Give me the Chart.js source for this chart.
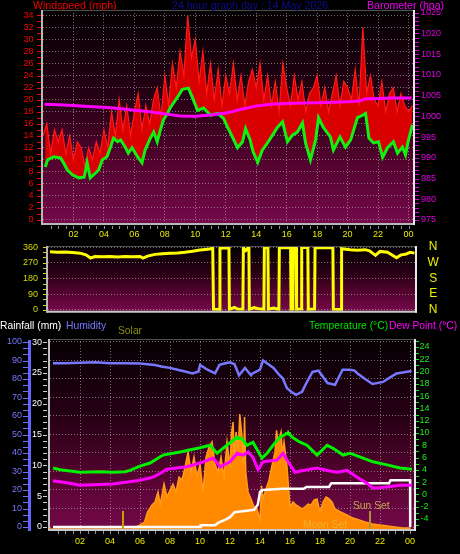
<!DOCTYPE html>
<html><head><meta charset="utf-8">
<script src="https://cdn.jsdelivr.net/npm/chart.js@4.4.1/dist/chart.umd.min.js"></script>
<style>
html,body{margin:0;padding:0;background:#000;width:460px;height:554px;overflow:hidden;position:relative}
canvas{position:absolute;left:0}
.t{position:absolute;white-space:nowrap;font-family:'Liberation Sans',Arial,sans-serif;line-height:1}
</style></head><body>
<canvas id="c1" width="460" height="245" style="top:0;width:460px;height:245px"></canvas>
<canvas id="c2" width="460" height="82" style="top:236px;width:460px;height:82px"></canvas>
<canvas id="c3" width="460" height="236" style="top:318px;width:460px;height:236px"></canvas>
<div class="t" style="left:33px;top:0;font-size:10.6px;color:#f00000">Windspeed (mph)</div>
<div class="t" style="left:172px;top:0;font-size:10.6px;color:#0c0c90">24 hour graph day : 14 May 2026</div>
<div class="t" style="left:367px;top:0;font-size:10.6px;color:#ee00ee">Barometer (hpa)</div>
<div class="t" style="left:0;top:321px;font-size:10.3px;color:#ffffff">Rainfall (mm)</div>
<div class="t" style="left:66px;top:321px;font-size:10.3px;color:#7878ff">Humidity</div>
<div class="t" style="left:118px;top:326px;font-size:10.3px;color:#8c8c14">Solar</div>
<div class="t" style="left:309px;top:321px;font-size:10.3px;color:#00e400">Temperature (°C)</div>
<div class="t" style="left:389px;top:321px;font-size:10.3px;color:#ff00ff">Dew Point (°C)</div>
<div class="t" style="left:353px;top:501px;font-size:10.3px;color:#c8a850">Sun Set</div>
<div class="t" style="left:303px;top:520px;font-size:10.3px;color:#f0b030">Moon Set</div>
<script>
// ---------- tick labels ----------
const HOUR_TICKS = [2,4,6,8,10,12,14,16,18,20,22,24];
const HOUR_LABELS = ['02','04','06','08','10','12','14','16','18','20','22','00'];
const WIND_TICKS = [0,2,4,6,8,10,12,14,16,18,20,22,24,26,28,30,32,34];
const BARO_TICKS = [975,980,985,990,995,1000,1005,1010,1015,1020,1025];
const DIR_TICKS = [0,90,180,270,360];
const DIR_LABELS = ['N','E','S','W','N'];
const RAIN_TICKS = [0,5,10,15,20,25,30];
const HUM_TICKS = [0,10,20,30,40,50,60,70,80,90,100];
const TEMP_TICKS = [-4,-2,0,2,4,6,8,10,12,14,16,18,20,22,24];

// ---------- wind (mph), 15-minute gust samples ----------
const GUST_STEP_H = 0.25;
const gustSpeed = [14,16,11,15, 13,15,11,14, 10,13,12,9, 12,10,13,11, 15,12,18,14, 20,15,19,14,
  18,21,15,19, 16,20,22,17, 24,19,26,22, 28,24,34,27, 30,23,28,21, 26,20,25,19,
  24,21,26,20, 24,19,23,25, 22,26,20,24, 19,23,18,26, 22,19,24,20, 23,18,21,22,
  24,19,22,18, 21,24,19,23, 22,20,25,19, 32,21,24,20, 19,23,18,21, 22,18,21,19, 18,19];
const avgHours = [0.15,0.3,0.7,1.15,1.35,1.6,1.93,2.35,2.7,2.9,3.1,3.45,3.65,3.9,4.2,4.43,4.63,4.9,5.1,5.4,5.6,5.85,6.2,6.5,6.7,7.05,7.27,7.5,7.7,7.9,8.17,8.37,8.83,9.15,9.55,9.8,10.15,10.54,11.0,11.46,11.85,12.1,12.3,12.77,13.1,13.3,13.6,13.8,14.1,14.4,14.74,15.07,15.4,15.73,16.05,16.38,16.7,17.04,17.24,17.56,17.9,18.09,18.4,18.87,19.07,19.5,19.86,20.2,20.65,20.98,21.18,21.4,21.7,22.03,22.3,22.62,23.01,23.28,23.6,23.8,24.0,24.26];
const avgSpeed = [8.8,10,10.5,10.3,9.5,8.3,7.5,7,7.1,9.5,7,7.8,8.3,10,10.5,12.1,13.6,13,13.3,12.1,11.1,12,10.5,9.5,11.6,13.6,14.6,13,14.9,16.6,17.7,18.7,20.4,21.7,21.9,20.4,18.2,18.6,17.4,17.7,16.9,15.5,14.5,12,13,15.2,13.3,11.3,9.6,11.6,12.8,14.1,15.4,16.3,13,14.1,14.6,16.1,12.8,10,13.3,17,15.4,13.8,11.6,13.8,12.1,13.3,17,17.4,17.7,13.6,12.8,13,10.4,12,13,11.1,12.1,10.8,13.3,15.8];
// ---------- barometer (hpa) ----------
const baroHours = [0.1,1,2,3,4,5,6,7,8,9,10,11,12,12.5,13,13.5,14,15,16,17,18,19,20,20.8,21.1,22,23,24.2];
const baroPressure = [1002.9,1002.8,1002.6,1002.4,1002.2,1001.9,1001.5,1001.1,1000.6,1000.1,1000,1000.3,1000.8,1001.2,1001.7,1002.1,1002.5,1002.9,1003.1,1003.2,1003.3,1003.4,1003.5,1003.7,1004.2,1004.3,1004.4,1004.4];
// ---------- wind direction (degrees) ----------
const dirHours = [0,0.5,1,1.5,2,2.4,2.7,3,3.5,4,4.5,5,5.5,6,6.2,6.5,7,7.5,8,8.5,9,9.5,10,10.5,10.85,
  10.9,11.3,11.33,11.6,11.93,11.96,12.3,12.5,12.86,12.89,13.05,13.26,13.29,13.6,13.9,14.26,14.29,14.53,14.56,14.9,15.26,15.29,16.04,16.07,16.19,16.22,16.41,16.44,16.75,16.78,17.19,17.22,17.64,17.67,18.86,18.89,19.41,19.44,
  20,20.5,21,21.3,21.7,22,22.5,23.1,23.4,23.7,24,24.3];
const dirDegrees = [333,330,331,328,325,315,297,305,304,306,303,306,305,306,297,308,318,322,325,326,330,336,343,348,352,
  3,2,352,356,354,2,14,4,3,356,340,358,2,12,6,3,357,355,3,10,2,358,356,3,4,357,356,2,5,357,358,2,4,356,357,3,2,350,
  344,342,345,338,312,335,330,298,315,318,330,325];
// ---------- bottom panel ----------
const humHours = [0.2,1,2,3,4,5,6,7,7.5,8,8.5,9,9.5,9.9,10,10.5,11,11.3,11.7,12,12.3,12.6,13,13.4,13.5,14,14.2,14.9,15.3,15.5,15.8,16.1,16.4,16.8,17.1,17.5,17.9,18.5,19.0,19.5,20,20.3,20.5,21,21.5,22.2,22.7,23.1,23.5,24.1];
const humidity = [88.5,88.5,88.8,89,88.5,88.5,88.3,87.5,86.6,86,85,84,83,84,87.6,85,83,87.6,88.5,89,88,82,86,82,83,85,90,86,82,80.5,75,73,71.4,73,78,83.8,84.5,77.8,76.8,85,85,84.5,83,80,77.3,78.4,81,83,83.5,84.3];
const tempHours = [0.2,0.67,2,3.33,4.2,5,5.33,6,6.67,7.53,8.2,8.67,10,10.67,11.13,12,12.47,12.8,13.13,13.53,14.13,14.47,14.87,15.33,15.87,16.2,16.67,17.13,17.8,18.47,18.87,19.53,20,20.87,21.53,22.47,23.33,24.13];
const temperature = [4.3,4.0,3.6,3.7,3.6,3.7,3.9,4.6,5.1,6.4,6.7,6.9,7.6,8.0,6.7,8.4,9.3,9.0,8.0,8.5,5.9,6.7,8.0,9.3,10,9.2,8.5,8.0,6.4,8.0,7.5,6.4,6.7,5.9,5.3,4.8,4.3,4.1];
const dewHours = [0.2,1.33,2,4.2,6,6.87,7.33,7.8,9.13,10,10.87,11.13,11.33,12,12.47,12.87,13.2,13.53,13.87,14.2,15.13,15.53,15.87,16.33,16.87,17.8,18.47,19.13,19.8,20.47,21.13,21.53,22.47,23.33,24.13];
const dewPoint = [2.2,1.8,1.5,1.7,2.3,2.8,3.4,4.1,4.5,5.1,5.9,5.2,4.5,5.3,6.7,6.4,6.9,6.0,4.0,5.3,5.6,6.7,5.3,3.6,3.9,4.3,3.9,3.6,3.9,2.8,1.8,1.0,1.2,1.5,1.5];
const rainHours = [0.2,10,10.05,11,11.3,11.7,12,12.3,13,13.6,13.85,14.0,14.2,15.5,16.9,17.1,18.6,18.75,22.6,22.7,24,24.01];
const rainfall = [0,0,0.3,0.3,0.8,1.2,1.6,2.4,2.6,2.8,3.6,5.7,6.0,6.2,6.2,6.5,6.5,7.1,7.1,7.6,7.6,0];
const solarHours = [0,5.5,6.0,6.3,6.5,6.8,7.0,7.2,7.35,7.6,7.8,8.0,8.2,8.4,8.6,8.8,9.0,9.2,9.4,9.6,9.8,10.0,10.2,10.4,10.6,10.8,11.0,11.2,11.4,11.6,11.8,12.0,12.1,12.2,12.3,12.4,12.55,12.65,12.8,12.9,12.97,13.05,13.2,13.4,13.6,13.8,14.0,14.1,14.2,14.4,14.6,14.8,15.0,15.1,15.2,15.4,15.5,15.6,15.8,16.0,16.2,16.4,16.6,16.8,17.0,17.2,17.4,17.6,17.8,18.0,18.2,18.4,18.6,18.8,19.0,19.4,19.8,20.2,20.6,21.0,21.5,22.0,22.5,23.0,23.5,24.0];
const solar = [0,0,26,45,110,156,175,240,160,292,208,253,292,240,337,318,402,500,370,467,337,422,240,467,532,565,422,370,467,337,565,402,620,694,450,630,520,746,597,420,727,370,240,195,143,130,58,280,195,260,318,415,500,640,565,630,480,565,402,143,175,156,143,130,143,162,156,188,195,110,175,208,195,175,130,110,91,71,58,45,32,26,19,13,6,6];
const maxTempHour = [15.87], maxTempValue = [10];
const sunEventHours = [4.87, 21.33];

// ---------- helpers ----------
const FONT = "'Liberation Sans', Arial, sans-serif";
const pts = (xs, ys) => xs.map((x, i) => ({x: x, y: ys[i]}));
const GRID = 'rgba(200,200,200,0.55)';
const CLEAR = 'rgba(0,0,0,0)';
const PANEL_STOPS = [[0,'#040002'],[0.4,'#260014'],[0.72,'#54032f'],[1,'#74094a']];

function deco(cfg) {
  return {
    id: 'deco',
    beforeDraw(chart) {
      const {ctx, chartArea: a} = chart;
      const g = ctx.createLinearGradient(0, a.top, 0, a.bottom);
      PANEL_STOPS.forEach(s => g.addColorStop(s[0], s[1]));
      ctx.save(); ctx.fillStyle = g;
      ctx.fillRect(a.left, a.top, a.right - a.left, a.bottom - a.top);
      ctx.restore();
    },
    afterDatasetsDraw(chart) {
      const {ctx, chartArea: a} = chart;
      if (cfg.sun) {
        const xs = chart.scales.x, r = chart.scales.rain;
        ctx.save(); ctx.lineWidth = 2;
        cfg.sun.hours.forEach((h, i) => {
          const px = Math.round(xs.getPixelForValue(h));
          ctx.strokeStyle = cfg.sun.colors[i];
          ctx.beginPath(); ctx.moveTo(px, r.getPixelForValue(cfg.sun.height)); ctx.lineTo(px, a.bottom); ctx.stroke();
        });
        ctx.restore();
      }
    },
    afterDraw(chart) {
      const {ctx, chartArea: a} = chart;
      ctx.save();
      (cfg.ticks || []).forEach(t => {
        const s = chart.scales[t.scale];
        ctx.strokeStyle = t.color; ctx.lineWidth = 1;
        ctx.beginPath();
        const n = Math.round((t.to - t.from) / t.step);
        for (let k = 0; k <= n; k++) {
          const v = t.from + k * t.step;
          const p = Math.round(s.getPixelForValue(v)) + 0.5;
          if (t.horizontal) {
            const y0 = a.bottom + t.off;
            ctx.moveTo(p, y0); ctx.lineTo(p, y0 + t.len);
          } else {
            const x0 = (t.edge === 'left' ? a.left : a.right) + t.off;
            ctx.moveTo(x0, p); ctx.lineTo(x0 + t.len, p);
          }
        }
        ctx.stroke();
      });
      const f = cfg.frame;
      const line = (x1, y1, x2, y2, c, w) => { ctx.strokeStyle = c; ctx.lineWidth = w; ctx.beginPath(); ctx.moveTo(x1, y1); ctx.lineTo(x2, y2); ctx.stroke(); };
      line(a.left, a.top + 0.5, a.right, a.top + 0.5, f.top, 1);
      line(a.left - 1, a.top, a.left - 1, a.bottom + 2, f.left, 2);
      line(a.left - 1, a.bottom + 1, a.right + 1, a.bottom + 1, f.bottom, 2);
      line(a.right, a.top, a.right, a.bottom + 2, f.right, 2);
      if (cfg.bar) {
        const s = chart.scales[cfg.bar.scale];
        line(s.right - 2.5, a.top + 1, s.right - 2.5, a.bottom + 2, cfg.bar.color, 3);
      }
      ctx.restore();
    }
  };
}
function fixedTicks(list) { return s => { s.ticks = list.map(v => ({value: v})); }; }
function tickFont(size) { return {family: FONT, size: size}; }
// y-axis: gap between plot and labels made with an invisible tick mark (ticks.padding would also pad the plot top/bottom)
function yGrid(gap, onChart) {
  return {display: true, drawOnChartArea: onChart, color: GRID, drawTicks: true, tickLength: gap, tickColor: CLEAR, tickWidth: 1};
}
const hourLabel = v => HOUR_LABELS[HOUR_TICKS.indexOf(v)];
const plain = v => String(v);
const baseOpts = {responsive: false, animation: false, devicePixelRatio: 1, events: [],
  plugins: {legend: {display: false}, tooltip: {enabled: false}}};

// ---------- chart 1: wind + barometer ----------
new Chart(document.getElementById('c1'), {
  type: 'line',
  data: {datasets: [
    {data: pts(baroHours, baroPressure), yAxisID: 'baro', borderColor: '#ff00ff', borderWidth: 3, pointRadius: 0, fill: false},
    {data: pts(avgHours, avgSpeed), yAxisID: 'wind', borderColor: '#12f012', borderWidth: 3, pointRadius: 0, fill: false},
    {data: gustSpeed.map((v, i) => ({x: i * GUST_STEP_H, y: v})), yAxisID: 'wind', borderColor: '#ff1a1a', borderWidth: 1.2, pointRadius: 0, fill: 1, backgroundColor: '#d80000'}
  ]},
  options: Object.assign({}, baseOpts, {
    layout: {padding: {top: 10, left: 0, right: 0, bottom: 0}},
    scales: {
      x: {type: 'linear', min: 0, max: 24.36, afterFit: s => { s.height = 22; }, afterBuildTicks: fixedTicks(HOUR_TICKS),
        ticks: {callback: hourLabel, color: '#e8e800', font: tickFont(9), padding: 6, maxRotation: 0, autoSkip: false},
        grid: {color: GRID, drawTicks: false}, border: {display: false, dash: [1, 2]}},
      wind: {type: 'linear', position: 'left', min: -0.5, max: 34.88, afterFit: s => { s.width = 43; }, afterBuildTicks: fixedTicks(WIND_TICKS),
        ticks: {color: '#ff0000', font: tickFont(9), padding: 0, autoSkip: false, callback: plain},
        grid: yGrid(9.5, true), border: {display: false, dash: [1, 2]}},
      baro: {type: 'linear', position: 'right', min: 974.28, max: 1025.65, afterFit: s => { s.width = 46; }, afterBuildTicks: fixedTicks(BARO_TICKS),
        ticks: {color: '#e000e0', font: tickFont(9), padding: 0, autoSkip: false, callback: plain},
        grid: yGrid(7, false), border: {display: false}}
    }
  }),
  plugins: [deco({
    frame: {top: '#505050', left: '#b8b8b8', bottom: '#b8b8b8', right: '#e8e8e8'},
    ticks: [
      {scale: 'wind', from: 0, to: 34, step: 1, edge: 'left', off: -6, len: 5, color: '#ff0000'},
      {scale: 'baro', from: 975, to: 1025, step: 1, edge: 'right', off: 1, len: 4, color: '#e000e0'},
      {scale: 'x', from: 0.5, to: 24, step: 0.5, horizontal: true, off: 3, len: 3, color: '#909090'}
    ]
  })]
});

// ---------- chart 2: wind direction ----------
new Chart(document.getElementById('c2'), {
  type: 'line',
  data: {datasets: [
    {data: pts(dirHours, dirDegrees), yAxisID: 'dir', borderColor: '#ffff00', borderWidth: 3, pointRadius: 0, fill: false}
  ]},
  options: Object.assign({}, baseOpts, {
    layout: {padding: {top: 10, left: 0, right: 0, bottom: 7}},
    scales: {
      x: {type: 'linear', min: -0.133, max: 24.4, display: false},
      dir: {type: 'linear', position: 'left', min: -6, max: 366, afterFit: s => { s.width = 48; }, afterBuildTicks: fixedTicks(DIR_TICKS),
        ticks: {color: '#d8d800', font: tickFont(9), padding: 0, autoSkip: false, callback: plain},
        grid: yGrid(10, true), border: {display: false, dash: [1, 2]}},
      dirR: {type: 'linear', position: 'right', min: -6, max: 366, afterFit: s => { s.width = 44; }, afterBuildTicks: fixedTicks(DIR_TICKS),
        ticks: {color: '#f0f000', font: tickFont(12), padding: 0, crossAlign: 'center', autoSkip: false,
          callback: v => DIR_LABELS[DIR_TICKS.indexOf(v)]},
        grid: yGrid(11.5, false), border: {display: false}}
    }
  }),
  plugins: [deco({
    frame: {top: '#505050', left: '#b8b8b8', bottom: '#c8c8c8', right: '#e8e8e8'},
    ticks: [
      {scale: 'dir', from: 0, to: 360, step: 30, edge: 'left', off: -5, len: 4, color: '#d8d800'}
    ]
  })]
});

// ---------- chart 3: humidity, rain, solar, temperature, dew point ----------
new Chart(document.getElementById('c3'), {
  type: 'line',
  data: {datasets: [
    {type: 'scatter', data: pts(maxTempHour, maxTempValue), yAxisID: 'temp', pointStyle: 'cross', pointRadius: 3, borderColor: '#20ff20', borderWidth: 1},
    {data: pts(tempHours, temperature), yAxisID: 'temp', borderColor: '#00f000', borderWidth: 3, pointRadius: 0, fill: false},
    {data: pts(dewHours, dewPoint), yAxisID: 'temp', borderColor: '#ff00ff', borderWidth: 3, pointRadius: 0, fill: false},
    {data: pts(humHours, humidity), yAxisID: 'hum', borderColor: '#7878ff', borderWidth: 2.5, pointRadius: 0, fill: false},
    {data: pts(rainHours, rainfall), yAxisID: 'rain', borderColor: '#ffffff', borderWidth: 2.5, pointRadius: 0, fill: false},
    {data: pts(solarHours, solar), yAxisID: 'solar', borderColor: '#ff9a1a', borderWidth: 1.5, pointRadius: 0, fill: 'origin', backgroundColor: '#ff8a00'}
  ]},
  options: Object.assign({}, baseOpts, {
    layout: {padding: {top: 21, left: 0, right: 0, bottom: 0}},
    scales: {
      x: {type: 'linear', min: 0, max: 24.33, afterFit: s => { s.height = 25; }, afterBuildTicks: fixedTicks(HOUR_TICKS),
        ticks: {callback: hourLabel, color: '#e8e800', font: tickFont(9), padding: 7, maxRotation: 0, autoSkip: false},
        grid: {color: GRID, drawTicks: false}, border: {display: false, dash: [1, 2]}},
      rain: {type: 'linear', position: 'left', weight: 0, min: -0.324, max: 30.49, afterFit: s => { s.width = 18; }, afterBuildTicks: fixedTicks(RAIN_TICKS),
        ticks: {color: '#ffffff', font: tickFont(9), padding: 0, autoSkip: false, callback: plain},
        grid: yGrid(8, false), border: {display: false}},
      hum: {type: 'linear', position: 'left', weight: 1, min: -1.08, max: 101.6, afterFit: s => { s.width = 32; }, afterBuildTicks: fixedTicks(HUM_TICKS),
        ticks: {color: '#7878ff', font: tickFont(9), padding: 0, autoSkip: false, callback: plain},
        grid: yGrid(10, true), border: {display: false, dash: [1, 2]}},
      temp: {type: 'linear', position: 'right', min: -5.64, max: 25.3, afterFit: s => { s.width = 45; }, afterBuildTicks: fixedTicks(TEMP_TICKS),
        ticks: {color: '#20e820', font: tickFont(9), padding: 0, crossAlign: 'center', autoSkip: false, callback: plain},
        grid: yGrid(4.5, false), border: {display: false}},
      solar: {type: 'linear', display: false, min: 0, max: 1233}
    }
  }),
  plugins: [deco({
    frame: {top: '#505050', left: '#c0c0c0', bottom: '#c8c8c8', right: '#e8e8e8'},
    bar: {scale: 'hum', color: '#6464ff'},
    sun: {hours: sunEventHours, colors: ['#c8a000', '#b09030'], height: 2.6},
    ticks: [
      {scale: 'rain', from: 0, to: 30, step: 1, edge: 'left', off: -7, len: 4, color: '#d0d0d0'},
      {scale: 'rain', from: 0, to: 30, step: 1, edge: 'left', off: -27, len: 5, color: '#7070ff'},
      {scale: 'temp', from: -5, to: 25, step: 1, edge: 'right', off: 1, len: 3, color: '#20e820'},
      {scale: 'x', from: 0.5, to: 24, step: 0.5, horizontal: true, off: 2, len: 3, color: '#909090'}
    ]
  })]
});
</script>
</body></html>
